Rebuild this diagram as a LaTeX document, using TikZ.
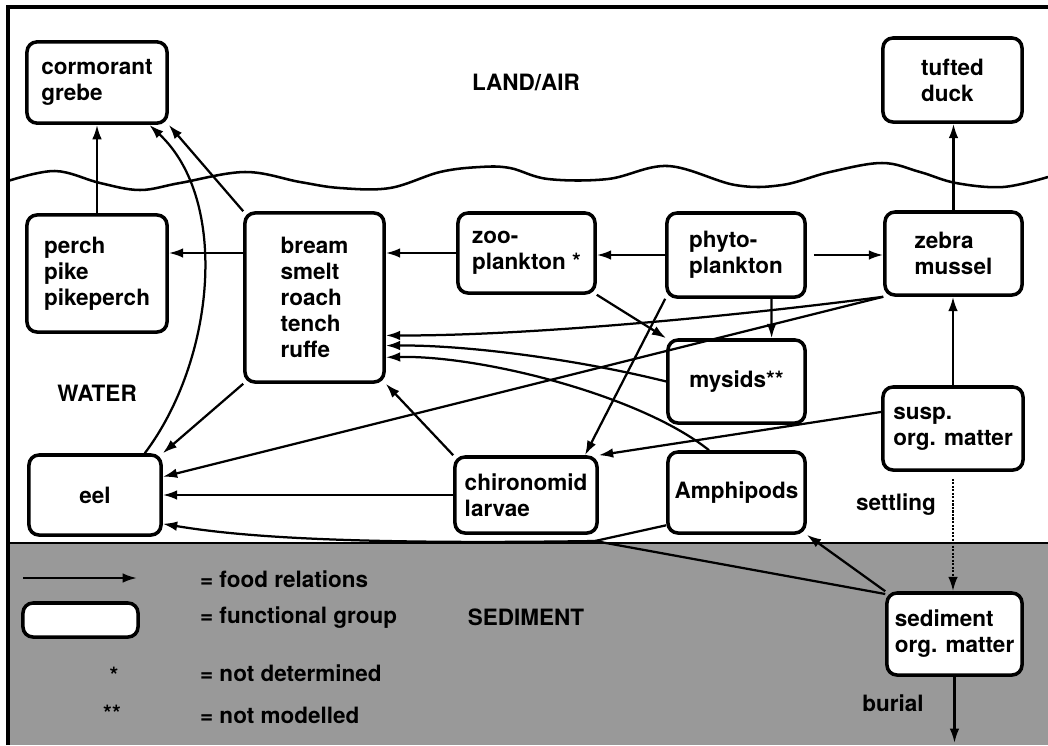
\documentclass[tikz,border=0pt]{standalone}
\usepackage{fontspec}
\setmainfont{TeX Gyre Heros}
\usetikzlibrary{arrows.meta, calc}

\begin{document}
\begin{tikzpicture}[x=0.025cm, y=-0.025cm,
      >={Latex[length=3.6mm, width=2.4mm]}, line width=1.6pt,
      font=\fontsize{16}{18.5}\selectfont\bfseries,
      fgroup/.style={draw, rounded corners=2.5mm, line width=2.5pt,
        fill=white, align=left, inner sep=0pt},
      lbl/.style={inner sep=0pt}]
  \useasboundingbox (0,0) rectangle (1048,745);
  % sediment, frame and water surface
  \fill[black!40] (8,543) rectangle (1048,745);
  \draw (8,543) -- (1048,543);
  \draw[line width=2.2pt] (8,745) -- (8,7) -- (1048,7);
  \draw[line width=1.8pt] plot[smooth, tension=0.6] coordinates {(8,181) (55,171)
    (100,183) (140,190) (180,183) (245,172) (300,182) (340,188) (390,188)
    (440,172) (480,167) (510,168) (548,179) (608,179) (668,166) (735,185)
    (782,185) (830,172) (882,163) (920,172) (956,183) (1003,187) (1048,177)};

  % functional groups
  \node[fgroup, minimum width=3.5cm, minimum height=2.03cm] (corm) at (97,82.5) {cormorant\\grebe};
  \node[fgroup, minimum width=3.475cm, minimum height=2.1cm] (duck) at (952.5,80) {tufted\\duck};
  \node[fgroup, minimum width=3.5cm, minimum height=2.925cm] (perch) at (97,273.5) {perch\\pike\\pikeperch};
  \node[fgroup, minimum width=3.475cm, minimum height=4.225cm] (bream) at (314.5,297.5) {bream\\smelt\\roach\\tench\\ruffe};
  \node[fgroup, minimum width=3.425cm, minimum height=2cm] (zoo) at (526.5,253) {zoo-\\plankton *};
  \node[fgroup, minimum width=3.45cm, minimum height=2.1cm] (phyto) at (736,255) {phyto-\\plankton};
  \node[fgroup, minimum width=3.425cm, minimum height=2.075cm] (zebra) at (953.5,253.5) {zebra\\mussel};
  \node[fgroup, minimum width=3.425cm, minimum height=2.075cm] (mysids) at (736.5,381.5) {mysids**};
  \node[fgroup, minimum width=3.5cm, minimum height=2.075cm] (susp) at (953,428.5) {susp.\\org. matter};
  \node[fgroup, minimum width=3.3cm, minimum height=2cm] (eel) at (95,495) {eel};
  \node[fgroup, minimum width=3.55cm, minimum height=1.9cm] (chir) at (526,495) {chironomid\\larvae};
  \node[fgroup, minimum width=3.425cm, minimum height=2.025cm] (amph) at (736.5,492.5) {Amphipods};
  \node[fgroup, minimum width=3.375cm, minimum height=2.05cm] (sedom) at (954.5,634) {sediment\\org. matter};

  % zone and flux labels
  \node[lbl] (landair) at (526,82) {LAND/AIR};
  \node[lbl] (water) at (97,393) {WATER};
  \node[lbl] (sedlab) at (526,617) {SEDIMENT};
  \node[lbl] (settle) at (896,505) {settling};
  \node[lbl] (burial) at (893,703) {burial};

  % legend
  \coordinate (legA) at (23,578);
  \coordinate (legB) at (137,578);
  \draw[->] (legA) -- (legB);
  \node[fgroup, minimum width=2.875cm, minimum height=0.85cm] (leggrp) at (80.5,620) {};
  \node[lbl, anchor=west] (legfood) at (199,579) {= food relations};
  \node[lbl, anchor=west] (leggrptext) at (199,618) {= functional group};
  \node[lbl] (legstar) at (114,675) {*};
  \node[lbl, anchor=west] (legnd) at (199,673) {= not determined};
  \node[lbl] (legstars) at (112,713) {**};
  \node[lbl, anchor=west] (legnm) at (199,715) {= not modelled};

  % food relations
  \draw[->] (perch.north) -- (corm.south);
  \draw[->] (bream.north west) -- (corm.south east);
  \draw[->] (eel.40) .. controls (215,360) and (230,200) .. (corm.-39);
  \draw[->] (bream.west |- zoo) -- (perch.east |- zoo);
  \draw[->] (zoo.west) -- (bream.east |- zoo);
  \draw[->] (phyto.west) -- (zoo.east |- phyto.west);
  \draw[->] ([xshift=5pt]phyto.east) -- (zebra.west |- phyto.east);
  \draw[->] (zebra.north) -- (zebra.north |- duck.south);
  \draw[->] (susp.north) -- (susp.north |- zebra.south);
  \draw[->] (zoo.south east) -- (mysids.north west);
  \draw[->] ($(phyto.south)!.5!(phyto.south east)$) -- ($(mysids.north)!.5!(mysids.north east)$);
  \draw[->] (phyto.south west) -- (chir.34);
  \draw[->] (zebra.south west) .. controls (720,318) and (520,336) .. (bream.-28);
  \draw[->] (mysids.west) .. controls (580,360) and (470,345) .. (bream.-34);
  \draw[->] (amph.123) .. controls (640,395) and (480,355) .. (bream.-40);
  \draw[->] (zebra.south west) -- (eel.15);
  \draw[->] (bream.south west) -- (eel.north east);
  \draw[->] (chir.west) -- (eel.east |- chir.west);
  \draw[->] (chir.north west) -- (bream.south east);
  \draw[->] (susp.167) -- (chir.north east);
  \coordinate (sedjoin) at (595,541);
  \draw[->] (sedom.150) -- (sedjoin) .. controls (330,545) and (230,535) .. (eel.-23);
  \draw (amph.205) -- (sedjoin);
  \draw[->] (sedom.north west) -- (amph.south east);
  % settling and burial
  \draw[->, dash pattern=on 1.5pt off 1pt] ([yshift=-5pt]susp.south) -- (susp.south |- sedom.north);
  \coordinate (burialend) at (953,743);
  \draw[->] (sedom.south) -- (sedom.south |- burialend);
\end{tikzpicture}
\end{document}
